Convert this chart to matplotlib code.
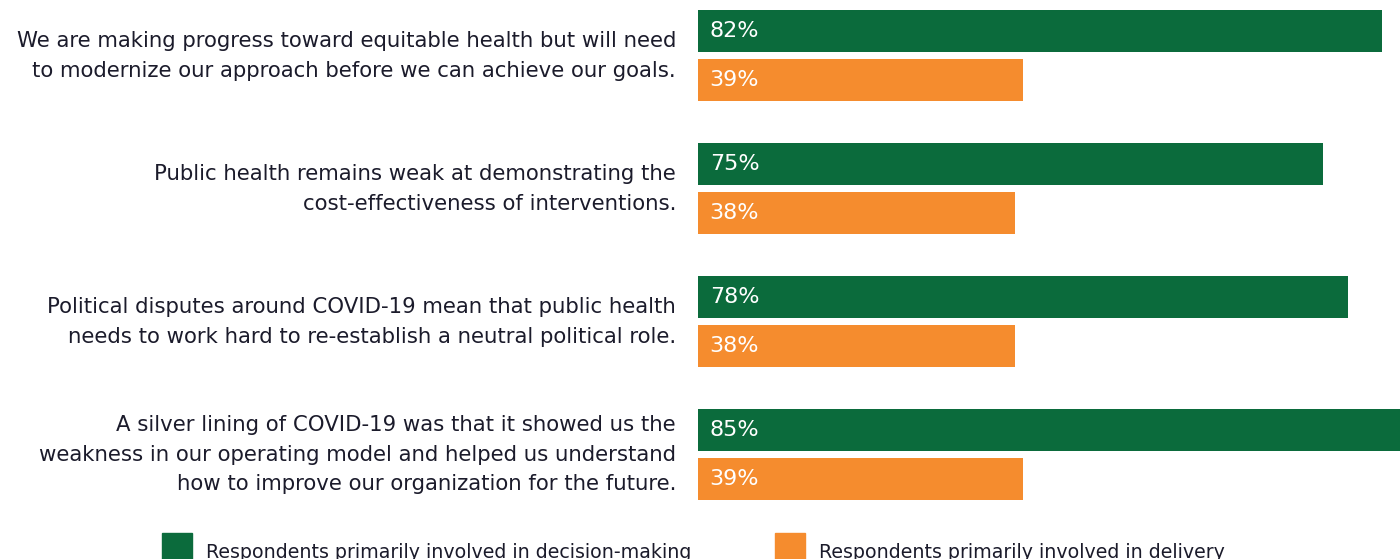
import matplotlib
matplotlib.use("Agg")
import matplotlib.pyplot as plt
from matplotlib.patches import Rectangle

# Survey statements and shares of respondents agreeing (%)
statements = [
    "We are making progress toward equitable health but will need\nto modernize our approach before we can achieve our goals.",
    "Public health remains weak at demonstrating the\ncost-effectiveness of interventions.",
    "Political disputes around COVID-19 mean that public health\nneeds to work hard to re-establish a neutral political role.",
    "A silver lining of COVID-19 was that it showed us the\nweakness in our operating model and helped us understand\nhow to improve our organization for the future.",
]
decision_making = [82, 75, 78, 85]
delivery = [39, 38, 38, 39]
series_names = [
    "Respondents primarily involved in decision-making",
    "Respondents primarily involved in delivery",
]

GREEN = "#0B6B3C"
ORANGE = "#F58C2E"
TEXT = "#1B1B2B"

plt.rcParams["font.family"] = ["DejaVu Sans"]

fig = plt.figure(figsize=(14, 5.59), dpi=100)
ax = fig.add_axes([698 / 1400, 0, 702 / 1400, 1])

offset = 0.186
height = 0.316
for i, (dm, dl) in enumerate(zip(decision_making, delivery)):
    ax.barh(i - offset, dm, height=height, color=GREEN)
    ax.barh(i + offset, dl, height=height, color=ORANGE)
    ax.text(1.4, i - offset, f"{dm}%", color="white", fontsize=16,
            va="center", ha="left")
    ax.text(1.4, i + offset, f"{dl}%", color="white", fontsize=16,
            va="center", ha="left")
    ax.annotate(statements[i], xy=(0, i), xycoords="data",
                xytext=(-22, 0), textcoords="offset pixels",
                ha="right", va="center", fontsize=15.3, color=TEXT,
                multialignment="right", linespacing=1.6,
                annotation_clip=False)

ax.set_xlim(0, 84.2)
ax.set_ylim(3.784, -0.419)
ax.axis("off")

# legend along the bottom edge (cut off at the bottom, as in the source)
for x0, color, name in [(162, GREEN, series_names[0]), (775, ORANGE, series_names[1])]:
    fig.patches.append(Rectangle((x0 / 1400, 0), 30 / 1400, 26 / 559,
                                 transform=fig.transFigure, color=color))
    fig.text((x0 + 44) / 1400, -3 / 559, name, fontsize=13.7, color=TEXT,
             ha="left", va="bottom")

fig.savefig("out.png", dpi=100)
